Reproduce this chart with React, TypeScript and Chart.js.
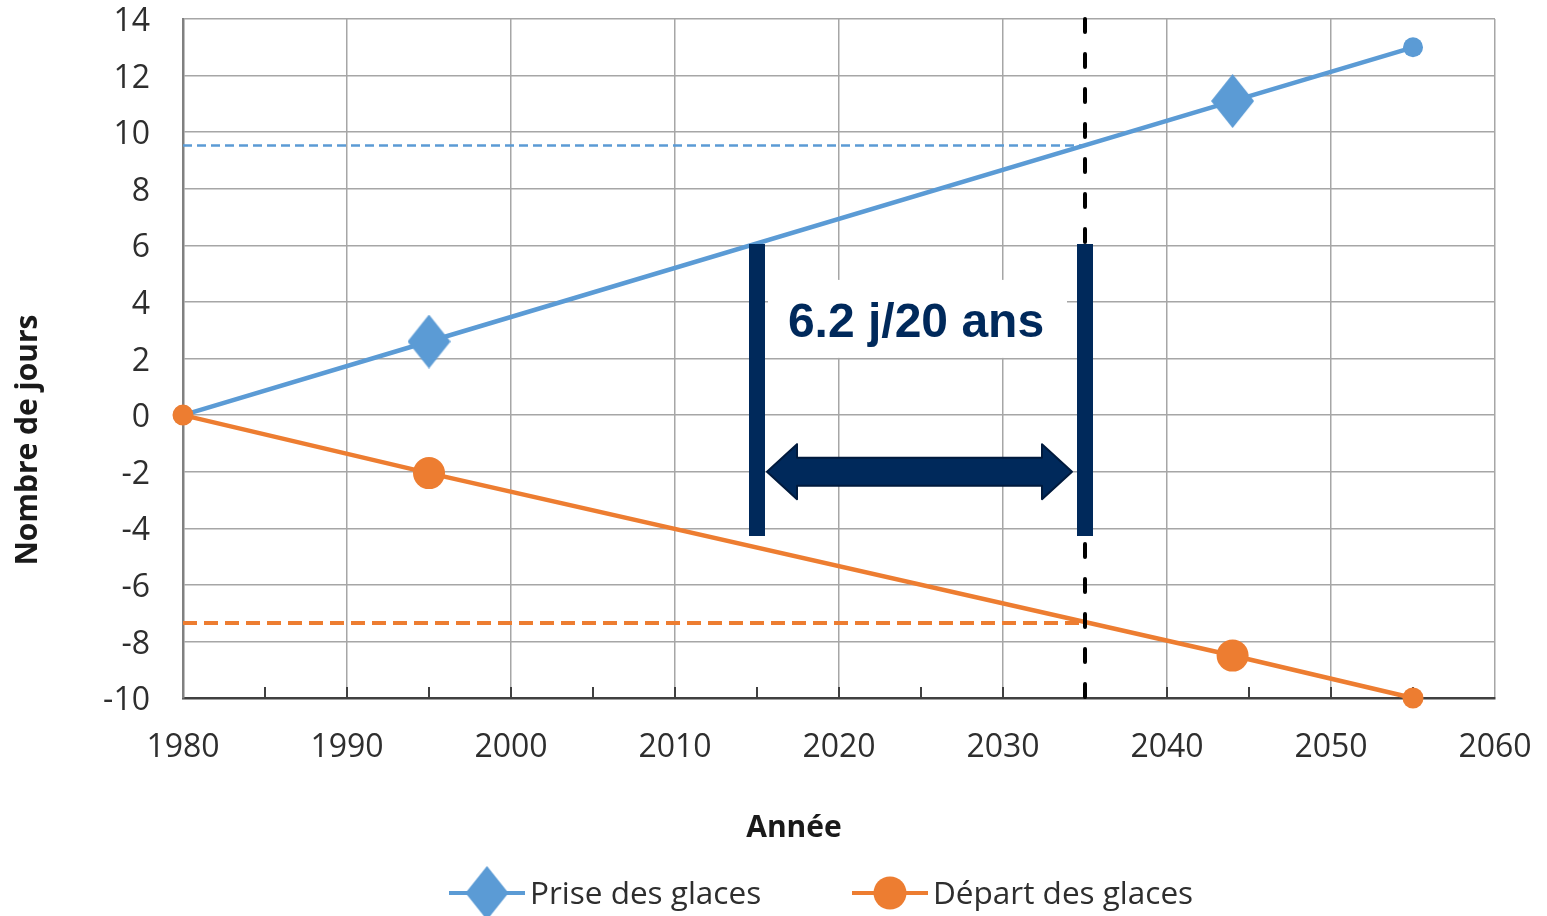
import React, { useEffect, useRef } from 'react';
import { Chart, registerables } from 'chart.js';

Chart.register(...registerables);

// ---------- data ----------
const years = [1980, 1995, 2044, 2055];
const priseDesGlaces = [0, 2.6, 11.1, 13];
const departDesGlaces = [0, -2.05, -8.5, -10];
const seriesLabels = ['Prise des glaces', 'Départ des glaces'];
const xRange = [1980, 2060];
const xStep = 10;
const xMinorStep = 5;
const yRange = [-10, 14];
const yStep = 2;
const refYear = 2035;
const priseRefValue = 9.53;
const departRefValue = -7.35;
const bracketYears = [2015, 2035];
const bracketRange = [6.05, -4.27];
const arrowValue = -2;
const annotationText = '6.2 j/20 ans';
const annotationValue = 3.4;
const xTitle = 'Année';
const yTitle = 'Nombre de jours';

// ---------- styles ----------
const BLUE = '#5b9bd5';
const ORANGE = '#ed7d31';
const NAVY = '#00295b';
const GRID = '#a6a6a6';
const TEXT = '#2e2e2e';
const FONT = "'Open Sans', sans-serif";

function makeDiamond(w: number, h: number, color: string) {
  const c = document.createElement('canvas');
  c.width = w;
  c.height = h;
  const ctx = c.getContext('2d')!;
  ctx.fillStyle = color;
  ctx.beginPath();
  ctx.moveTo(w / 2, 0);
  ctx.lineTo(w, h / 2);
  ctx.lineTo(w / 2, h);
  ctx.lineTo(0, h / 2);
  ctx.closePath();
  ctx.fill();
  return c;
}

export default function App() {
  const ref = useRef<HTMLCanvasElement>(null);

  useEffect(() => {
    document.body.style.margin = '0';
    const canvas = ref.current!;
    const diamond = makeDiamond(43, 54, BLUE);

    const underlay = {
      id: 'underlay',
      beforeDatasetsDraw(chart: any) {
        const { ctx, chartArea } = chart;
        const xs = chart.scales.x;
        const ys = chart.scales.y;
        ctx.save();
        // minor inside ticks on x axis
        ctx.strokeStyle = '#404040';
        ctx.lineWidth = 2;
        for (let v = xRange[0] + xMinorStep; v < xRange[1]; v += xMinorStep) {
          const px = xs.getPixelForValue(v);
          ctx.beginPath();
          ctx.moveTo(px, chartArea.bottom);
          ctx.lineTo(px, chartArea.bottom - 11);
          ctx.stroke();
        }
        // white box behind annotation text
        const cx = xs.getPixelForValue((bracketYears[0] + bracketYears[1]) / 2);
        const cy = ys.getPixelForValue(annotationValue);
        ctx.fillStyle = '#ffffff';
        ctx.fillRect(cx - 153, cy - 39, 299, 78);
        ctx.restore();
      },
    };

    const overlay = {
      id: 'overlay',
      afterDatasetsDraw(chart: any) {
        const { ctx } = chart;
        const xs = chart.scales.x;
        const ys = chart.scales.y;
        ctx.save();
        // double arrow
        const x1 = xs.getPixelForValue(bracketYears[0]) + 10;
        const x2 = xs.getPixelForValue(bracketYears[1]) - 13;
        const y = ys.getPixelForValue(arrowValue);
        const hl = 30, hh = 27.5, sh = 14;
        ctx.beginPath();
        ctx.moveTo(x1, y);
        ctx.lineTo(x1 + hl, y - hh);
        ctx.lineTo(x1 + hl, y - sh);
        ctx.lineTo(x2 - hl, y - sh);
        ctx.lineTo(x2 - hl, y - hh);
        ctx.lineTo(x2, y);
        ctx.lineTo(x2 - hl, y + hh);
        ctx.lineTo(x2 - hl, y + sh);
        ctx.lineTo(x1 + hl, y + sh);
        ctx.lineTo(x1 + hl, y + hh);
        ctx.closePath();
        ctx.fillStyle = NAVY;
        ctx.fill();
        ctx.lineWidth = 2;
        ctx.lineJoin = 'round';
        ctx.strokeStyle = '#001a3d';
        ctx.stroke();

        // annotation text
        const cx = xs.getPixelForValue((bracketYears[0] + bracketYears[1]) / 2);
        const cy = ys.getPixelForValue(annotationValue);
        ctx.fillStyle = NAVY;
        ctx.font = "bold 48px 'Liberation Sans', Arial, sans-serif";
        ctx.textAlign = 'center';
        ctx.textBaseline = 'alphabetic';
        ctx.fillText(annotationText, cx - 5, cy + 18);
        ctx.restore();
      },
      afterDraw(chart: any) {
        const { ctx } = chart;
        ctx.save();
        // axis titles
        ctx.fillStyle = '#1a1a1a';
        ctx.font = `bold 30px ${FONT}`;
        ctx.textAlign = 'center';
        ctx.textBaseline = 'alphabetic';
        ctx.fillText(xTitle, 794, 837);
        ctx.translate(37, 440);
        ctx.rotate(-Math.PI / 2);
        ctx.fillText(yTitle, 0, 0);
        ctx.setTransform(1, 0, 0, 1, 0, 0);

        // legend
        const entries = [
          { label: seriesLabels[0], color: BLUE, x0: 449, marker: 'diamond' },
          { label: seriesLabels[1], color: ORANGE, x0: 852, marker: 'circle' },
        ];
        const ly = 893;
        for (const e of entries) {
          ctx.strokeStyle = e.color;
          ctx.lineWidth = 4;
          ctx.beginPath();
          ctx.moveTo(e.x0, ly);
          ctx.lineTo(e.x0 + 76, ly);
          ctx.stroke();
          const mx = e.x0 + 38;
          if (e.marker === 'diamond') {
            ctx.drawImage(diamond, mx - diamond.width / 2, ly - diamond.height / 2);
          } else {
            ctx.fillStyle = e.color;
            ctx.beginPath();
            ctx.arc(mx, ly, 16.5, 0, Math.PI * 2);
            ctx.fill();
          }
          ctx.fillStyle = TEXT;
          ctx.font = `31.5px ${FONT}`;
          ctx.textAlign = 'left';
          ctx.fillText(e.label, e.x0 + 81, 904);
        }
        ctx.restore();
      },
    };

    const pts = (vals: number[]) => years.map((x, i) => ({ x, y: vals[i] }));

    const chart = new Chart(canvas, {
      type: 'line',
      data: {
        datasets: [
          {
            label: seriesLabels[0],
            data: pts(priseDesGlaces),
            borderColor: BLUE,
            backgroundColor: BLUE,
            borderWidth: 4.5,
            pointStyle: (c: any) => (c.dataIndex === 1 || c.dataIndex === 2 ? diamond : 'circle'),
            pointRadius: [10, 16, 16, 10],
            pointBackgroundColor: BLUE,
            pointBorderWidth: 0,
            order: 3,
            clip: false,
          } as any,
          {
            label: seriesLabels[1],
            data: pts(departDesGlaces),
            borderColor: ORANGE,
            backgroundColor: ORANGE,
            borderWidth: 4.5,
            pointStyle: 'circle',
            pointRadius: [10.5, 16, 16, 10.5],
            pointBackgroundColor: ORANGE,
            pointBorderWidth: 0,
            order: 2,
            clip: false,
          } as any,
          {
            label: 'ref prise',
            data: [{ x: xRange[0], y: priseRefValue }, { x: refYear, y: priseRefValue }],
            borderColor: BLUE,
            borderWidth: 2.5,
            borderDash: [9, 5],
            pointRadius: 0,
            order: 5,
          },
          {
            label: 'ref depart',
            data: [{ x: xRange[0], y: departRefValue }, { x: refYear, y: departRefValue }],
            borderColor: ORANGE,
            borderWidth: 4,
            borderDash: [14, 7],
            pointRadius: 0,
            order: 4,
          },
          {
            label: 'ref year',
            data: [{ x: refYear, y: yRange[1] }, { x: refYear, y: yRange[0] }],
            borderColor: '#000000',
            borderWidth: 4,
            borderDash: [13, 22],
            borderCapStyle: 'round',
            pointRadius: 0,
            order: 1,
            clip: false,
          } as any,
          ...bracketYears.map((yr) => ({
            label: 'bracket ' + yr,
            data: [{ x: yr, y: bracketRange[0] }, { x: yr, y: bracketRange[1] }],
            borderColor: NAVY,
            borderWidth: 16,
            borderCapStyle: 'butt',
            pointRadius: 0,
            order: 0,
          })) as any,
        ],
      },
      options: {
        responsive: false,
        animation: false,
        devicePixelRatio: 1,
        layout: { padding: { left: 0, right: 52, top: 19, bottom: 118 } },
        plugins: { legend: { display: false }, tooltip: { enabled: false } },
        elements: { line: { tension: 0 } },
        scales: {
          x: {
            type: 'linear',
            min: xRange[0],
            max: xRange[1],
            ticks: {
              stepSize: xStep,
              color: TEXT,
              font: { family: FONT, size: 32 },
              padding: 31,
              callback: (v: any) => String(v),
            },
            grid: { color: GRID, lineWidth: 1.5, drawTicks: false },
            border: { color: '#404040', width: 2.5 },
            afterFit: (s: any) => {
              s.height = 100;
              s.paddingLeft = 0;
              s.paddingRight = 0;
            },
          },
          y: {
            type: 'linear',
            min: yRange[0],
            max: yRange[1],
            ticks: {
              stepSize: yStep,
              color: TEXT,
              font: { family: FONT, size: 32 },
              padding: 33,
              labelOffset: 3,
              callback: (v: any) => String(v),
            },
            grid: { color: GRID, lineWidth: 1.5, drawTicks: false },
            border: { color: '#808080', width: 2.5 },
            afterFit: (s: any) => {
              s.width = 183;
              s.paddingTop = 0;
              s.paddingBottom = 0;
            },
          },
        },
      } as any,
      plugins: [underlay, overlay],
    });
    return () => chart.destroy();
  }, []);

  return (
    <div style={{ position: 'fixed', left: 0, top: 0, width: 1547, height: 916, background: '#ffffff' }}>
      <canvas ref={ref} width={1547} height={916} style={{ display: 'block' }} />
    </div>
  );
}
